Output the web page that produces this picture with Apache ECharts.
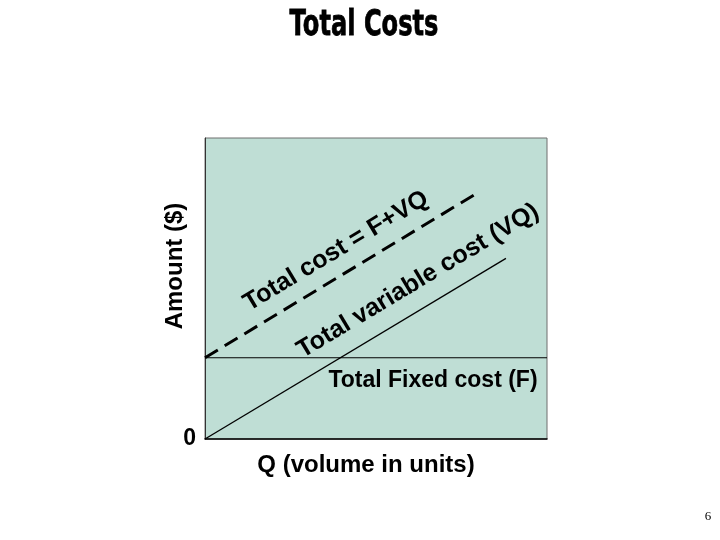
<!DOCTYPE html>
<html>
<head>
<meta charset="utf-8">
<script src="https://cdn.jsdelivr.net/npm/echarts@6/dist/echarts.min.js"></script>
<style>
  html, body { margin: 0; padding: 0; background: #fff; }
  #main { width: 720px; height: 540px; }
</style>
</head>
<body>
<div id="main"></div>
<script>
// volume Q (0..100 scale) and amount ($, 0..100 scale)
const fixedQ = [0, 100]
const fixedAmt = [27, 27]
const variableQ = [0, 88]
const variableAmt = [0, 60]
const totalQ = [0, 80]
const totalAmt = [27, 82]
const yTicks = [0]

const chart = echarts.init(document.getElementById('main'))
const toPairs = (xs, ys) => xs.map((x, i) => [x, ys[i]])
const fam = '"Liberation Sans", Arial, sans-serif'
const bold = 'bold 24px ' + fam
const bigBold = 'bold 25px ' + fam
const angle = 31 * Math.PI / 180

const option = {
  animation: false,
  grid: {
    left: 205, top: 138, width: 342, height: 301,
    show: true,
    backgroundColor: '#bfded5',
    borderColor: '#6e6e6e',
    borderWidth: 1
  },
  xAxis: {
    type: 'value', min: 0, max: 100,
    axisLine: { show: true, lineStyle: { color: '#000', width: 1.5 } },
    axisTick: { show: false },
    axisLabel: { show: false },
    splitLine: { show: false }
  },
  yAxis: {
    type: 'value', min: 0, max: 100, interval: 100,
    axisLine: { show: true, lineStyle: { color: '#333', width: 1 } },
    axisTick: { show: false },
    axisLabel: {
      margin: 9,
      color: '#000',
      fontSize: 23,
      fontWeight: 'bold',
      fontFamily: fam,
      formatter: v => yTicks.includes(v) ? String(v) : ''
    },
    splitLine: { show: false }
  },
  series: [
    {
      type: 'line', data: toPairs(fixedQ, fixedAmt), symbol: 'none',
      lineStyle: { color: '#000', width: 1.2 }
    },
    {
      type: 'line', data: toPairs(variableQ, variableAmt), symbol: 'none',
      lineStyle: { color: '#000', width: 1.3 }
    },
    {
      type: 'line', data: toPairs(totalQ, totalAmt), symbol: 'none',
      lineStyle: { color: '#000', width: 3, type: [15, 8] }
    }
  ],
  graphic: [
    {
      type: 'text', x: 364, y: 26, scaleX: 0.67,
      style: {
        text: 'Total Costs', font: 'bold 36px "DejaVu Sans", sans-serif',
        fill: '#000', stroke: '#000', lineWidth: 0.8,
        align: 'center', verticalAlign: 'middle'
      }
    },
    {
      type: 'text', x: 175, y: 266, rotation: Math.PI / 2,
      style: { text: 'Amount ($)', font: bold, fill: '#000', align: 'center', verticalAlign: 'middle' }
    },
    {
      type: 'text', x: 366, y: 465,
      style: { text: 'Q (volume in units)', font: bold, fill: '#000', align: 'center', verticalAlign: 'middle' }
    },
    {
      type: 'text', x: 433, y: 381,
      style: { text: 'Total Fixed cost (F)', font: 'bold 23px ' + fam, fill: '#000', align: 'center', verticalAlign: 'middle' }
    },
    {
      type: 'text', x: 336, y: 251, rotation: angle,
      style: { text: 'Total cost = F+VQ', font: bigBold, fill: '#000', align: 'center', verticalAlign: 'middle' }
    },
    {
      type: 'text', x: 418, y: 281, rotation: angle,
      style: { text: 'Total variable cost (VQ)', font: bigBold, fill: '#000', align: 'center', verticalAlign: 'middle' }
    },
    {
      type: 'text', x: 708, y: 517,
      style: { text: '6', font: '13px "Liberation Serif", serif', fill: '#000', align: 'center', verticalAlign: 'middle' }
    }
  ]
}

chart.setOption(option)
</script>
</body>
</html>
